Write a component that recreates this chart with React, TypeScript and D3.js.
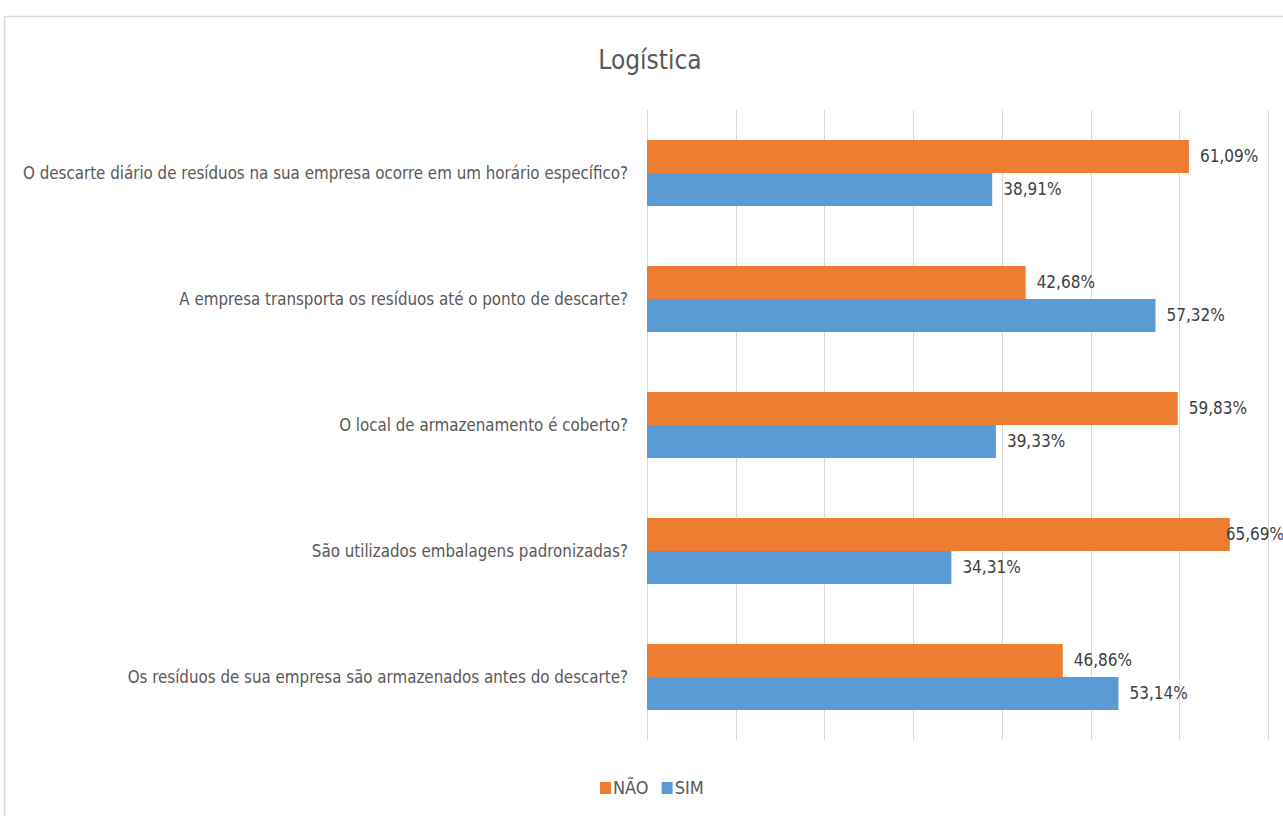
import React, { useEffect, useRef } from "react";
import * as d3 from "d3";

const categories = [
  "O descarte diário de resíduos na sua empresa ocorre em um horário específico?",
  "A empresa transporta os resíduos até o ponto de descarte?",
  "O local de armazenamento é coberto?",
  "São utilizados embalagens padronizadas?",
  "Os resíduos de sua empresa são armazenados antes do descarte?",
];
const naoValues = [61.09, 42.68, 59.83, 65.69, 46.86];
const simValues = [38.91, 57.32, 39.33, 34.31, 53.14];
const seriesNames = ["NÃO", "SIM"];
const seriesColors = ["#ED7D31", "#5B9BD5"];
const xTicks = [0, 10, 20, 30, 40, 50, 60, 70];

const W = 1283;
const H = 816;
const FONT = "'DejaVu Sans Condensed', sans-serif";

export default function App() {
  const ref = useRef<SVGSVGElement>(null);
  useEffect(() => {
    const svg = d3.select(ref.current);
    svg.selectAll("*").remove();

    svg.append("rect").attr("x", 0).attr("y", 0).attr("width", W).attr("height", H).attr("fill", "#fff");
    svg.append("rect").attr("x", 4.5).attr("y", 16.5).attr("width", W + 20).attr("height", H + 20)
      .attr("fill", "none").attr("stroke", "#d9d9d9").attr("stroke-width", 1.5);

    const x = d3.scaleLinear().domain([0, 70]).range([647, 1268]);
    const y = d3.scaleBand().domain(categories).range([110, 740]).paddingInner(0.476).paddingOuter(0.238);
    const sub = d3.scaleBand().domain(seriesNames).range([0, y.bandwidth()]);

    svg.append("text").attr("x", 650).attr("y", 69).attr("text-anchor", "middle")
      .attr("font-family", FONT).attr("font-size", 26).attr("fill", "#595959").text("Logística");

    svg.append("g").selectAll("line").data(xTicks).join("line")
      .attr("x1", d => Math.round(x(d)) + 0.5).attr("x2", d => Math.round(x(d)) + 0.5)
      .attr("y1", 110).attr("y2", 740).attr("stroke", "#d9d9d9").attr("stroke-width", 1);

    const rows = categories.map((c, i) => ({ c, vals: [naoValues[i], simValues[i]] }));

    const g = svg.append("g");
    rows.forEach(r => {
      r.vals.forEach((v, si) => {
        const yy = (y(r.c) as number) + (sub(seriesNames[si]) as number);
        g.append("rect").attr("x", x(0)).attr("y", yy).attr("width", x(v) - x(0))
          .attr("height", sub.bandwidth()).attr("fill", seriesColors[si]);
        const t = g.append("text").attr("y", yy + sub.bandwidth() / 2).attr("dy", "0.35em")
          .attr("font-family", FONT).attr("font-size", 17).attr("fill", "#404040")
          .text(v.toFixed(2).replace(".", ",") + "%");
        const node = t.node() as SVGTextElement;
        const tw = node.getComputedTextLength();
        let tx = x(v) + 11;
        if (tx + tw > W + 1) tx = W + 1 - tw;
        t.attr("x", tx);
      });
      svg.append("text").attr("x", 628).attr("y", (y(r.c) as number) + y.bandwidth() / 2).attr("dy", "0.35em")
        .attr("text-anchor", "end").attr("font-family", FONT).attr("font-size", 16.8).attr("fill", "#595959")
        .text(r.c);
    });

    // legend
    const lg = svg.append("g");
    let lx = 600;
    seriesNames.forEach((n, i) => {
      lg.append("rect").attr("x", lx).attr("y", 782).attr("width", 11).attr("height", 12).attr("fill", seriesColors[i]);
      const t = lg.append("text").attr("x", lx + 13).attr("y", 788).attr("dy", "0.35em")
        .attr("font-family", FONT).attr("font-size", 18).attr("fill", "#595959").text(n);
      lx += 13 + (t.node() as SVGTextElement).getComputedTextLength() + 13;
    });
  }, []);
  return (
    <svg ref={ref} width={W} height={H} style={{ position: "absolute", left: 0, top: 0, display: "block" }} />
  );
}
